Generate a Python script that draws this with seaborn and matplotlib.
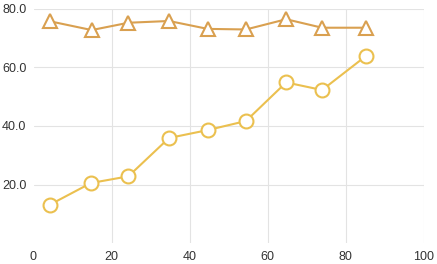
import matplotlib
matplotlib.use("Agg")
import matplotlib.pyplot as plt
import seaborn as sns
import pandas as pd

x_tri = [4.2, 14.9, 24.3, 34.7, 44.6, 54.4, 64.7, 73.9, 85.1]
y_tri = [75.8, 72.8, 75.3, 75.9, 73.2, 73.0, 76.5, 73.6, 73.6]
x_circ = [4.2, 14.7, 24.3, 34.7, 44.6, 54.4, 64.7, 73.9, 85.1]
y_circ = [13.1, 20.5, 22.8, 35.9, 38.6, 41.7, 54.9, 52.3, 63.9]
x_ticks = [0, 20, 40, 60, 80, 100]
y_ticks = [20, 40, 60, 80]

sns.set_style("white")
plt.rcParams['font.family'] = ['Liberation Sans', 'DejaVu Sans']

fig = plt.figure(figsize=(4.37, 2.64), dpi=100)
ax = fig.add_axes([33.5/437, 1 - 243/264, (424 - 33.5)/437, (243 - 9)/264])

df_t = pd.DataFrame({"x": x_tri, "y": y_tri})
df_c = pd.DataFrame({"x": x_circ, "y": y_circ})

sns.lineplot(data=df_c, x="x", y="y", ax=ax, color="#ebc04f", lw=1.5,
             marker="o", markersize=10, markerfacecolor="white",
             markeredgecolor="#ebc04f", markeredgewidth=1.5, sort=False)
sns.lineplot(data=df_t, x="x", y="y", ax=ax, color="#d9a050", lw=1.5,
             marker="^", markersize=10, markerfacecolor="white",
             markeredgecolor="#d9a050", markeredgewidth=1.5, sort=False)

ax.set_xlim(0, 100)
ax.set_ylim(0, 80)
ax.set_xticks(x_ticks)
ax.set_xticklabels([str(v) for v in x_ticks])
ax.set_yticks(y_ticks)
ax.set_yticklabels([f"{v:.1f}" for v in y_ticks])
ax.grid(True, color="#e3e3e3", lw=0.8)
ax.set_axisbelow(True)
ax.xaxis.get_gridlines()[0].set_visible(False)
for s in ax.spines.values():
    s.set_visible(False)
ax.tick_params(axis="both", length=0, labelsize=9, labelcolor="#333333")
ax.tick_params(axis="x", pad=6)
ax.tick_params(axis="y", pad=5)
ax.set_xlabel("")
ax.set_ylabel("")

fig.savefig("out.png", dpi=100)
